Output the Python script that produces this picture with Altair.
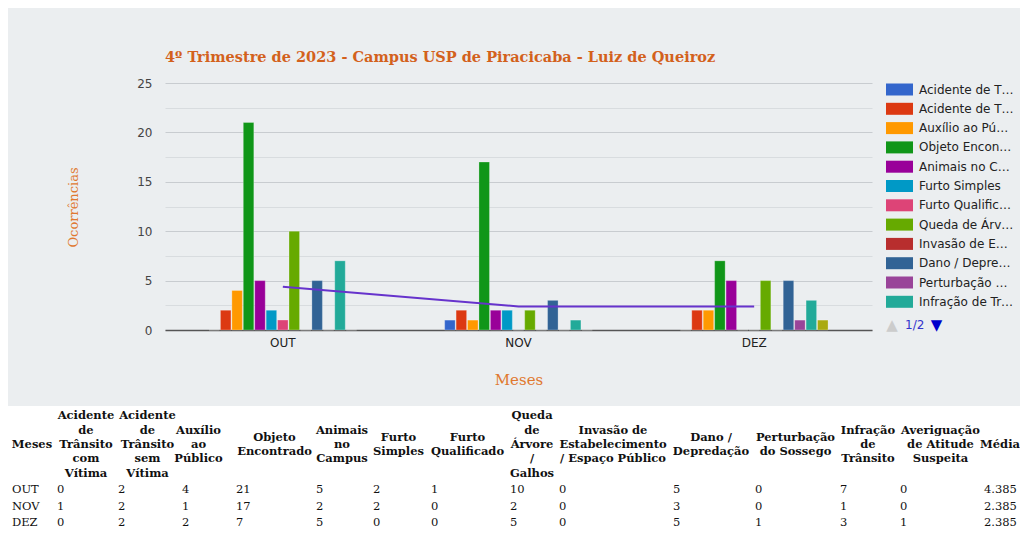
import altair as alt
import pandas as pd

# ---------------- data ----------------
TITLE = "4º Trimestre de 2023 - Campus USP de Piracicaba - Luiz de Queiroz"
MONTHS = ["OUT", "NOV", "DEZ"]
SERIES = [
    "Acidente de Trânsito com Vítima",
    "Acidente de Trânsito sem Vítima",
    "Auxílio ao Público",
    "Objeto Encontrado",
    "Animais no Campus",
    "Furto Simples",
    "Furto Qualificado",
    "Queda de Árvore / Galhos",
    "Invasão de Estabelecimento / Espaço Público",
    "Dano / Depredação",
    "Perturbação do Sossego",
    "Infração de Trânsito",
    "Averiguação de Atitude Suspeita",
]
ACID_COM = [0, 1, 0]
ACID_SEM = [2, 2, 2]
AUXILIO = [4, 1, 2]
OBJETO = [21, 17, 7]
ANIMAIS = [5, 2, 5]
FURTO_S = [2, 2, 0]
FURTO_Q = [1, 0, 0]
QUEDA = [10, 2, 5]
INVASAO = [0, 0, 0]
DANO = [5, 3, 5]
PERTURB = [0, 0, 1]
INFRACAO = [7, 1, 3]
AVERIG = [0, 0, 1]
MEDIA = [4.385, 2.385, 2.385]
VALUES = [ACID_COM, ACID_SEM, AUXILIO, OBJETO, ANIMAIS, FURTO_S, FURTO_Q,
          QUEDA, INVASAO, DANO, PERTURB, INFRACAO, AVERIG]

HEADERS = [
    ["Meses"],
    ["Acidente", "de", "Trânsito", "com", "Vítima"],
    ["Acidente", "de", "Trânsito", "sem", "Vítima"],
    ["Auxílio", "ao", "Público"],
    ["Objeto", "Encontrado"],
    ["Animais", "no", "Campus"],
    ["Furto", "Simples"],
    ["Furto", "Qualificado"],
    ["Queda", "de", "Árvore", "/", "Galhos"],
    ["Invasão de", "Estabelecimento", "/ Espaço Público"],
    ["Dano /", "Depredação"],
    ["Perturbação", "do Sossego"],
    ["Infração", "de", "Trânsito"],
    ["Averiguação", "de Atitude", "Suspeita"],
    ["Média"],
]
PAGER = ["▲", "1/2", "▼"]

# ---------------- style / layout ----------------
COLORS = ["#3366cc", "#dc3912", "#ff9900", "#109618", "#990099", "#0099c6",
          "#dd4477", "#66aa00", "#b82e2e", "#316395", "#994499", "#22aa99",
          "#aaaa11"]
LINE_COLOR = "#6633cc"
PANEL = "#ebeef0"
TITLE_COLOR = "#d3611c"
AXT_COLOR = "#e0782f"
OX, OY = 165, 83            # page position of the plot origin
HEAD_CX = [32, 86, 147.5, 198.5, 274.5, 342, 398.5, 467.5, 532, 613, 711,
           795.5, 868, 940.5, 1000]
COL_LEFT = [12, 57, 118, 182, 236, 316, 373, 431, 510, 559, 673, 755, 840,
            900, 984]
HEAD_MID_Y, HEAD_LH = 445, 14.3
ROW_Y0, ROW_DY = 490, 16.5
TFONT = 11.5

# ---------------- tables ----------------
bars_df = pd.DataFrame([
    {"Mes": m, "Serie": s, "Valor": v}
    for s, vals in zip(SERIES, VALUES) for m, v in zip(MONTHS, vals)
])
media_df = pd.DataFrame({"Mes": MONTHS, "Media": MEDIA})

head_rows = []
for j, lines in enumerate(HEADERS):
    k = len(lines)
    for i, t in enumerate(lines):
        head_rows.append({"t": t, "px": HEAD_CX[j] - OX,
                          "py": HEAD_MID_Y + (i - (k - 1) / 2) * HEAD_LH - OY})
head_df = pd.DataFrame(head_rows)

cell_rows = []
for r, m in enumerate(MONTHS):
    row = [m] + [str(v[r]) for v in VALUES] + [f"{MEDIA[r]:.3f}"]
    for j, t in enumerate(row):
        cell_rows.append({"t": t, "px": COL_LEFT[j] - OX,
                          "py": ROW_Y0 + r * ROW_DY - OY})
cell_df = pd.DataFrame(cell_rows)

# ---------------- axes ----------------
yaxis = alt.Axis(
    title="Ocorrências", values=[i * 2.5 for i in range(11)],
    labelExpr="datum.value % 5 === 0 ? datum.label : ''",
    grid=True,
    gridColor={"condition": {"test": "datum.value % 5 === 0", "value": "#c8ccd0"},
               "value": "#d8dcdf"},
    domain=False, ticks=False, labelPadding=13,
    labelFont="DejaVu Sans", labelFontSize=12, labelColor="#444444",
    titleFont="DejaVu Serif", titleFontSize=13, titleFontWeight="normal",
    titleColor=AXT_COLOR, titleX=-92, titleY=124, titleAngle=270,
    titleAlign="center", titleBaseline="middle",
)
xaxis = alt.Axis(
    title="Meses", labelAngle=0, domain=True, domainColor="#555555",
    domainWidth=1.5, ticks=False, labelPadding=7, grid=False,
    labelFont="DejaVu Sans", labelFontSize=12, labelColor="#222222",
    titleFont="DejaVu Serif", titleFontSize=15, titleFontWeight="normal",
    titleColor=AXT_COLOR, titleX=353.5, titleY=49, titleAlign="center",
    titleBaseline="middle",
)
xenc = alt.X("Mes:N", sort=MONTHS, axis=xaxis,
             scale=alt.Scale(paddingInner=0, paddingOuter=0))

# ---------------- layers ----------------
one = alt.Data(values=[{"k": 1}])

# white area under the grey chart panel, where the table sits
table_bg = alt.Chart(one).mark_rect(color="white").encode(
    x=alt.value(-170), x2=alt.value(870), y=alt.value(323), y2=alt.value(460))

bars = alt.Chart(bars_df).mark_bar(stroke="white", strokeOpacity=0.25,
                                   strokeWidth=1).encode(
    x=xenc,
    xOffset=alt.XOffset("Serie:N", sort=SERIES,
                        scale=alt.Scale(paddingInner=0.08, paddingOuter=0,
                                        range=[44, 191.7])),
    y=alt.Y("Valor:Q", axis=yaxis,
            scale=alt.Scale(domain=[0, 25], nice=False, zero=True)),
    color=alt.Color(
        "Serie:N", sort=SERIES,
        scale=alt.Scale(domain=SERIES, range=COLORS),
        legend=alt.Legend(
            title=None, orient="none", legendX=721, legendY=0.5,
            values=SERIES[:12], symbolType="M-1,-1L3.5,-1L3.5,1L-1,1Z",
            symbolSize=144, symbolStrokeWidth=0, symbolOpacity=1,
            labelOffset=21, rowPadding=7.3, padding=0,
            labelFont="DejaVu Sans", labelFontSize=12, labelColor="#222222",
            labelLimit=95,
        ),
    ),
)

line = alt.Chart(media_df).mark_line(color=LINE_COLOR, strokeWidth=2).encode(
    x=xenc,
    y=alt.Y("Media:Q", axis=yaxis,
            scale=alt.Scale(domain=[0, 25], nice=False, zero=True)),
)

plot = alt.layer(bars, line)

title = alt.Chart(one).mark_text(
    text=TITLE, align="left", baseline="alphabetic", font="DejaVu Serif",
    fontSize=14.5, fontWeight="bold", color=TITLE_COLOR,
).encode(x=alt.value(0), y=alt.value(-21))

pag1 = alt.Chart(one).mark_text(text=PAGER[0], fontSize=15, color="#cccccc",
                                font="DejaVu Sans", baseline="middle"
                                ).encode(x=alt.value(727), y=alt.value(242))
pag2 = alt.Chart(one).mark_text(text=PAGER[1], fontSize=12, color="#3333cc",
                                font="DejaVu Sans", baseline="middle",
                                align="left"
                                ).encode(x=alt.value(740), y=alt.value(242))
pag3 = alt.Chart(one).mark_text(text=PAGER[2], fontSize=15, color="#0000cc",
                                font="DejaVu Sans", baseline="middle"
                                ).encode(x=alt.value(771.5), y=alt.value(242))

heads = alt.Chart(head_df).mark_text(
    font="DejaVu Serif", fontSize=TFONT, fontWeight="bold", color="#111111",
    align="center", baseline="middle",
).encode(x=alt.X("px:Q", scale=None), y=alt.Y("py:Q", scale=None), text="t:N")

cells = alt.Chart(cell_df).mark_text(
    font="DejaVu Serif", fontSize=TFONT, color="#111111",
    align="left", baseline="middle",
).encode(x=alt.X("px:Q", scale=None), y=alt.Y("py:Q", scale=None), text="t:N")

table = alt.layer(heads, cells)

chart = alt.layer(table_bg, plot, title, pag1, pag2, pag3, table).resolve_scale(
    x="independent", y="independent"
).properties(
    width=707, height=247,
    autosize=alt.AutoSizeParams(type="none"),
    padding={"left": 157, "top": 75, "right": 148, "bottom": 199},
    background=PANEL,
).configure_view(stroke=None)

chart.save("out.html", embed_options={"renderer": "svg", "actions": False})
